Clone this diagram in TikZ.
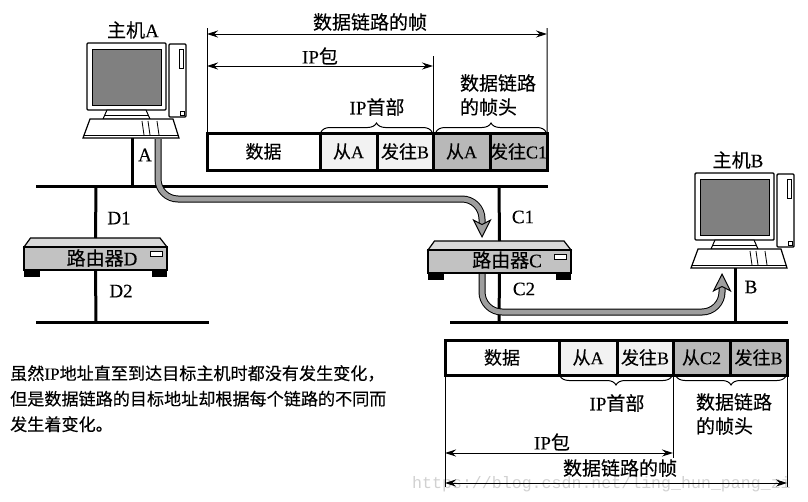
\documentclass[tikz,border=0pt]{standalone}
\usepackage{fontspec}
\setmainfont[FakeBold=0.25]{Liberation Serif}
\newfontfamily\cjk[FakeBold=0.25]{Noto Sans CJK SC}
\newfontfamily\wmfont{Liberation Mono}
\newcommand{\zh}[1]{{\cjk #1}}
\usetikzlibrary{arrows.meta,positioning,decorations.pathreplacing}

\definecolor{routegray}{gray}{0.62}
\definecolor{screengray}{gray}{0.5}
\definecolor{bodygray}{gray}{0.76}
\definecolor{lightcell}{gray}{0.95}
\definecolor{darkcell}{gray}{0.72}

\tikzset{
  lbl/.style={inner sep=0pt,font=\fontsize{19}{21}\selectfont},
  notelbl/.style={inner sep=0pt,align=left,font=\fontsize{17.1}{25.5}\selectfont},
  busline/.style={line width=3pt},
  dimline/.style={line width=1pt},
  dimarrow/.style={line width=1pt,<->},
  framebrace/.style={line width=1pt,decorate,decoration={brace,amplitude=9pt}},
  framebracelow/.style={line width=1pt,decorate,decoration={brace,mirror,amplitude=9pt}},
  routeline/.style={line width=1pt,double=routegray,double distance=5pt,rounded corners=20pt,
    -{Stealth[length=19pt,width=19pt,inset=5pt,fill=routegray]}},
  cell/.style={draw,line width=3pt,minimum height=37pt,outer sep=0pt,inner sep=0pt,
    font=\fontsize{18}{20}\selectfont},
  hostpc/.pic={
    \draw[line width=1.4pt,fill=white,rounded corners=1pt] (0,0) rectangle (79,67);
    \draw[line width=0.8pt,fill=screengray] (5,6) rectangle (74,62);
    \draw[line width=1pt,fill=white] (20,67) -- (59,67) -- (63,76) -- (16,76) -- cycle;
    \draw[line width=0.8pt] (18,72) -- (61,72);
    \draw[line width=1.4pt,fill=white,rounded corners=1pt] (82,1) rectangle (99,74);
    \draw[line width=0.8pt] (92,6) rectangle (96,25);
    \draw[line width=0.8pt] (93,68) rectangle (97,72);
    \draw[line width=1.2pt,fill=white] (3,76) -- (86,76) -- (92,95) -- (-4,95) -- cycle;
    \draw[line width=0.8pt] (-3,92) -- (91,92);
    \draw[line width=0.8pt] (55,78) -- (57,92) (61,78) -- (63,92) (70,78) -- (72,92);
    \coordinate (-kb) at (45,95);
  },
  routerunit/.pic={
    \fill (-71.5,11.5) rectangle (-56,18);
    \fill (56,11.5) rectangle (71.5,18);
    \draw[line width=1.2pt,fill=bodygray!60] (-65,-20.5) -- (64.5,-20.5) -- (71.5,-11.5) -- (-71.5,-11.5) -- cycle;
    \draw[line width=1.2pt,fill=bodygray] (-71.5,-11.5) rectangle (71.5,11.5);
    \draw[line width=0.8pt,fill=white] (54.5,-7.5) rectangle (66.5,-2.5);
    \coordinate (-top) at (0,-20.5);
    \coordinate (-bottom) at (0,11.5);
  }
}

\begin{document}
\begin{tikzpicture}[x=1pt,y=-1pt,>={Stealth[length=11pt,width=7pt]}]
  \useasboundingbox (0,0) rectangle (808,501);

  % watermark
  \node[anchor=west,inner sep=0pt,text=black!18,font=\wmfont\fontsize{16.6}{18}\selectfont] (mark)
    at (412,484) {https://blog.csdn.net/ling\_hun\_pang\_zi};

  % buses
  \coordinate (busA1) at (36,186);
  \coordinate (busA2) at (548,186);
  \coordinate (busD1) at (36,322);
  \coordinate (busD2) at (209,322);
  \coordinate (busB1) at (450,322);
  \coordinate (busB2) at (788,322);
  \draw[busline] (busA1) -- (busA2);
  \draw[busline] (busD1) -- (busD2);
  \draw[busline] (busB1) -- (busB2);

  \coordinate (tapA) at (132,186);
  \coordinate (tapD1) at (96,186);
  \coordinate (tapD2) at (96,322);
  \coordinate (tapC1) at (499,186);
  \coordinate (tapC2) at (499,322);
  \coordinate (tapB) at (735,322);

  \pic (hostA) at (87,43) {hostpc};
  \pic (hostB) at (695,173) {hostpc};
  \pic (routerD) at (95.5,258.5) {routerunit};
  \pic (routerC) at (499.5,261.5) {routerunit};

  \draw[busline] (tapA |- hostA-kb) -- (tapA);
  \draw[busline] (tapB |- hostB-kb) -- (tapB);
  \draw[busline] (tapD1) -- (routerD-top);
  \draw[busline] (routerD-bottom) -- (tapD2);
  \draw[busline] (tapC1) -- (routerC-top);
  \draw[busline] (routerC-bottom) -- (tapC2);

  \node[lbl] (nameA) at (133,30) {\zh{主机}A};
  \node[lbl] (nameB) at (738,160) {\zh{主机}B};
  \node[lbl] (nameD) at (102,258) {\zh{路由器}D};
  \node[lbl] (nameC) at (507,260) {\zh{路由器}C};
  \node[lbl] (ifA) at (145,155) {A};
  \node[lbl] (ifB) at (751,287) {B};
  \node[lbl] (ifD1) at (119,218) {D1};
  \node[lbl] (ifD2) at (121,291) {D2};
  \node[lbl] (ifC1) at (523,217) {C1};
  \node[lbl] (ifC2) at (524,289) {C2};

  % routes
  \coordinate (srcA) at (158,139);
  \coordinate (midA) at (320,199);
  \coordinate (dstC) at (482,238);
  \coordinate (srcC) at (482,274);
  \coordinate (midC) at (600,312);
  \coordinate (dstB) at (722,273);
  \draw[routeline] (srcA) |- (midA) -| (dstC);
  \draw[routeline] (srcC) |- (midC) -| (dstB);

  % upper frame
  \node[cell,anchor=north west,minimum width=113pt] (upData) at (207,133) {\zh{数据}};
  \node[cell,fill=lightcell,minimum width=57pt,right=0pt of upData] (upFrom) {\zh{从}A};
  \node[cell,fill=lightcell,minimum width=56pt,right=0pt of upFrom] (upTo) {\zh{发往}B};
  \node[cell,fill=darkcell,minimum width=57pt,right=0pt of upTo] (upLinkFrom) {\zh{从}A};
  \node[cell,fill=darkcell,minimum width=57pt,right=0pt of upLinkFrom] (upLinkTo) {\zh{发往}C1};

  \coordinate (upTopL) at (207,28);
  \coordinate (upTopR) at (547,28);
  \coordinate (upMid) at (433,56);
  \coordinate (upArrL) at (207,34);
  \coordinate (upArrR) at (547,34);
  \coordinate (upPktL) at (207,66);
  \coordinate (upPktR) at (433,66);
  \draw[dimline] (upTopL) -- (upData.north west);
  \draw[dimline] (upTopR) -- (upLinkTo.north east);
  \draw[dimline] (upMid) -- (upTo.north east);
  \draw[dimarrow] (upArrL) -- (upArrR);
  \draw[dimarrow] (upPktL) -- (upPktR);
  \draw[framebrace] ([xshift=1pt,yshift=1pt]upFrom.north west) -- ([xshift=-1pt,yshift=1pt]upTo.north east);
  \draw[framebrace] ([xshift=3pt,yshift=1pt]upLinkFrom.north west) -- ([xshift=-1pt,yshift=1pt]upLinkTo.north east);

  \node[lbl] (upFrameLbl) at (370,22) {\zh{数据链路的帧}};
  \node[lbl] (upPktLbl) at (320,56) {IP\zh{包}};
  \node[lbl] (upHdrLbl) at (377,107) {IP\zh{首部}};
  \node[lbl,align=left,font=\fontsize{19}{24}\selectfont] (upLinkLbl) at (498,95) {\zh{数据链路}\\\zh{的帧头}};

  % lower frame
  \node[cell,anchor=north west,minimum width=114pt,minimum height=35pt] (lowData) at (445,340) {\zh{数据}};
  \node[cell,fill=lightcell,minimum width=58pt,minimum height=35pt,right=0pt of lowData] (lowFrom) {\zh{从}A};
  \node[cell,fill=lightcell,minimum width=56pt,minimum height=35pt,right=0pt of lowFrom] (lowTo) {\zh{发往}B};
  \node[cell,fill=darkcell,minimum width=57pt,minimum height=35pt,right=0pt of lowTo] (lowLinkFrom) {\zh{从}C2};
  \node[cell,fill=darkcell,minimum width=57pt,minimum height=35pt,right=0pt of lowLinkFrom] (lowLinkTo) {\zh{发往}B};

  \coordinate (lowEndL) at (445,487);
  \coordinate (lowEndR) at (787,487);
  \coordinate (lowMid) at (673,458);
  \coordinate (lowPktL) at (445,453);
  \coordinate (lowPktR) at (673,453);
  \coordinate (lowArrL) at (445,483);
  \coordinate (lowArrR) at (787,483);
  \draw[dimline] (lowData.south west) -- (lowEndL);
  \draw[dimline] (lowLinkTo.south east) -- (lowEndR);
  \draw[dimline] (lowTo.south east) -- (lowMid);
  \draw[dimarrow] (lowPktL) -- (lowPktR);
  \draw[dimarrow] (lowArrL) -- (lowArrR);
  \draw[framebracelow] ([xshift=1pt,yshift=-1pt]lowFrom.south west) -- ([xshift=-1pt,yshift=-1pt]lowTo.south east);
  \draw[framebracelow] ([xshift=3pt,yshift=-1pt]lowLinkFrom.south west) -- ([xshift=-1pt,yshift=-1pt]lowLinkTo.south east);

  \node[lbl] (lowHdrLbl) at (617,403) {IP\zh{首部}};
  \node[lbl,align=left,font=\fontsize{19}{24}\selectfont] (lowLinkLbl) at (734,414) {\zh{数据链路}\\\zh{的帧头}};
  \node[lbl] (lowPktLbl) at (552,442) {IP\zh{包}};
  \node[lbl] (lowFrameLbl) at (620,468) {\zh{数据链路的帧}};

  % note
  \node[notelbl,anchor=north west] (note) at (10,365) {\zh{虽然}IP\zh{地址直至到达目标主机时都没有发生变化，}\\\zh{但是数据链路的目标地址却根据每个链路的不同而}\\\zh{发生着变化。}};
\end{tikzpicture}
\end{document}
